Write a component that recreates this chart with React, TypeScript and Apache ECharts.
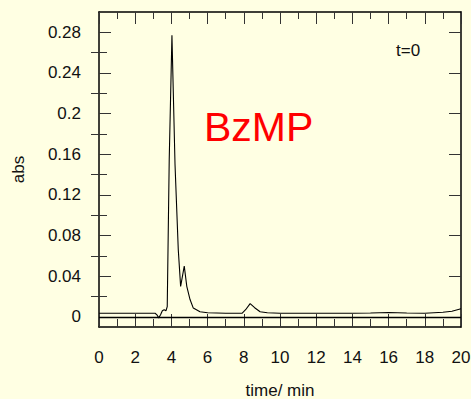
import React, { useEffect, useRef } from "react";
import * as echarts from "echarts";

const times = [0, 1, 2, 3, 3.1, 3.2, 3.3, 3.4, 3.5, 3.6, 3.7, 3.77, 3.88, 4.03, 4.2, 4.38, 4.51, 4.71, 4.85, 5.03, 5.21, 5.58, 6, 7, 7.9, 8.1, 8.35, 8.6, 8.9, 9.3, 10, 12, 14, 15, 16, 17, 18, 19, 19.5, 20];
const absValues = [0.0035, 0.0035, 0.0035, 0.0035, 0.0035, 0.002, -0.001, 0.002, 0.006, 0.007, 0.006, 0.01, 0.155, 0.277, 0.15, 0.066, 0.03, 0.05, 0.03, 0.017, 0.0086, 0.005, 0.004, 0.0035, 0.0035, 0.007, 0.013, 0.009, 0.005, 0.004, 0.0035, 0.0035, 0.0035, 0.0038, 0.0042, 0.0038, 0.0035, 0.0045, 0.0055, 0.008];
const yMajorTicks = [0, 0.04, 0.08, 0.12, 0.16, 0.2, 0.24, 0.28];
const yMinorTicks = [0.02, 0.06, 0.1, 0.14, 0.18, 0.22, 0.26];

export default function App() {
  const ref = useRef<HTMLDivElement>(null);
  useEffect(() => {
    if (!ref.current) return;
    const chart = echarts.init(ref.current, null, { renderer: "svg" });
    const font = "'Liberation Sans', Arial, sans-serif";
    const tickColor = "#333";
    const baseY = {
      type: "value",
      min: -0.01,
      max: 0.3,
      splitLine: { show: false },
    };
    const baseX = {
      type: "value",
      min: 0,
      max: 20,
      interval: 2,
      splitLine: { show: false },
    };
    chart.setOption({
      animation: false,
      backgroundColor: "#ffffe3",
      grid: { left: 99, right: 10, top: 12, bottom: 72, containLabel: false, outerBoundsMode: "none" },
      xAxis: [
        {
          ...baseX,
          position: "bottom",
          axisLine: { show: true, onZero: false, lineStyle: { color: "#000", width: 1.5 } },
          axisTick: { show: true, inside: true, length: 13, lineStyle: { color: tickColor, width: 1 } },
          minorTick: { show: true, splitNumber: 2, length: 8, lineStyle: { color: tickColor, width: 1 } },
          axisLabel: { show: true, margin: 22, color: "#111", fontSize: 17, fontFamily: font },
          name: "time/ min",
          nameLocation: "middle",
          nameGap: 55,
          nameTextStyle: { color: "#111", fontSize: 17, fontFamily: font },
        },
        {
          ...baseX,
          position: "top",
          axisLine: { show: true, onZero: false, lineStyle: { color: "#000", width: 1.5 } },
          axisTick: { show: true, inside: true, length: 12, lineStyle: { color: tickColor, width: 1 } },
          minorTick: { show: true, splitNumber: 2, length: 7, lineStyle: { color: tickColor, width: 1 } },
          axisLabel: { show: false },
        },
      ],
      yAxis: [
        {
          ...baseY,
          position: "left",
          axisLine: { show: true, onZero: false, lineStyle: { color: "#000", width: 1.5 } },
          axisTick: { show: true, inside: true, length: 12, customValues: yMajorTicks, lineStyle: { color: tickColor, width: 1 } },
          axisLabel: {
            show: true,
            customValues: yMajorTicks,
            margin: 18,
            color: "#111",
            fontSize: 17,
            fontFamily: font,
            formatter: (v: number) => String(+v.toFixed(2)),
          },
          name: "abs",
          nameLocation: "middle",
          nameGap: 72,
          nameRotate: 90,
          nameTextStyle: { color: "#111", fontSize: 17, fontFamily: font },
        },
        {
          ...baseY,
          position: "left",
          axisLine: { show: false },
          axisTick: { show: true, inside: true, length: 8, customValues: yMinorTicks, lineStyle: { color: tickColor, width: 1 } },
          axisLabel: { show: false },
        },
        {
          ...baseY,
          position: "right",
          axisLine: { show: true, onZero: false, lineStyle: { color: "#000", width: 1.5 } },
          axisTick: { show: true, inside: true, length: 12, customValues: yMajorTicks, lineStyle: { color: tickColor, width: 1 } },
          axisLabel: { show: false },
        },
        {
          ...baseY,
          position: "right",
          axisLine: { show: false },
          axisTick: { show: true, inside: true, length: 8, customValues: yMinorTicks, lineStyle: { color: tickColor, width: 1 } },
          axisLabel: { show: false },
        },
      ],
      series: [
        {
          type: "line",
          xAxisIndex: 0,
          yAxisIndex: 0,
          data: times.map((t, i) => [t, absValues[i]]),
          showSymbol: false,
          symbol: "none",
          lineStyle: { color: "#000", width: 1.1 },
          markLine: {
            silent: true,
            symbol: "none",
            label: { show: false },
            lineStyle: { color: "#000", width: 1.3, type: "solid" },
            data: [{ yAxis: 0 }],
          },
        },
      ],
      graphic: [
        {
          type: "text",
          x: 204,
          y: 127,
          style: { text: "BzMP", fill: "#ff0000", fontSize: 41, fontFamily: font, verticalAlign: "middle", align: "left" },
        },
        {
          type: "text",
          x: 396,
          y: 50,
          style: { text: "t=0", fill: "#111", fontSize: 17, fontFamily: font, verticalAlign: "middle", align: "left" },
        },
      ],
    });
    return () => chart.dispose();
  }, []);
  return <div ref={ref} style={{ position: "fixed", left: 0, top: 0, width: 471, height: 399 }} />;
}
